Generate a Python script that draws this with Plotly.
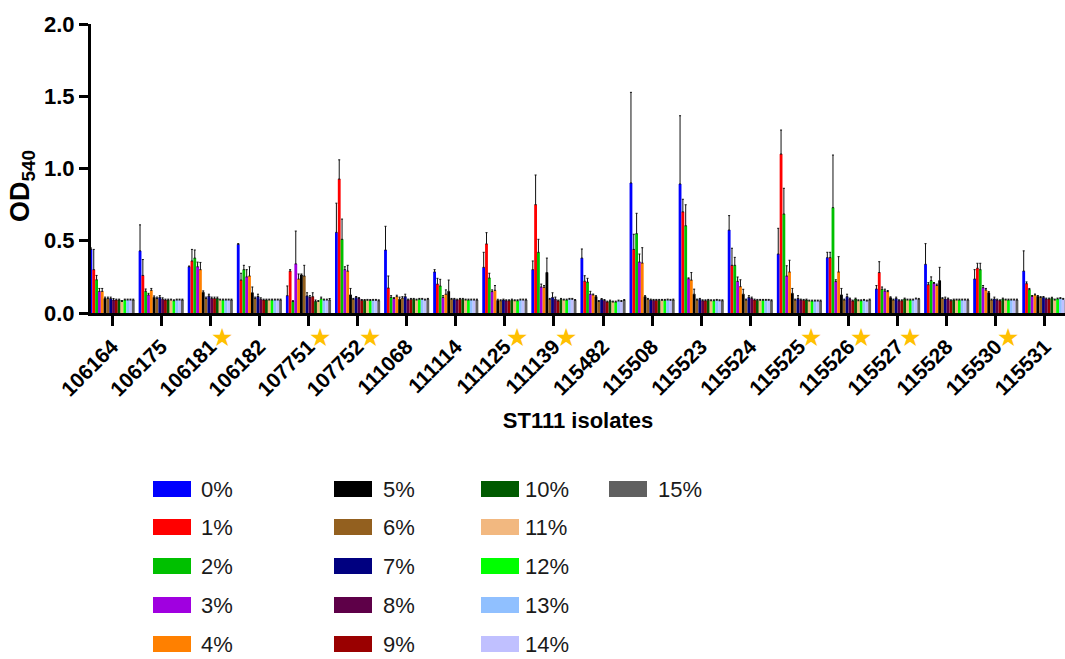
import plotly.graph_objects as go

isolates = ["106164", "106175", "106181", "106182", "107751", "107752", "111068",
            "111114", "111125", "111139", "115482", "115508", "115523", "115524",
            "115525", "115526", "115527", "115528", "115530", "115531"]
starred = ["106181", "107751", "107752", "111125", "111139", "115525", "115526",
           "115527", "115530"]
concentrations = ["0%", "1%", "2%", "3%", "4%", "5%", "6%", "7%", "8%", "9%",
                  "10%", "11%", "12%", "13%", "14%", "15%"]
colors = ["#0000FF", "#FF0000", "#00C000", "#A000E0", "#FF8000", "#000000",
          "#93601F", "#000080", "#5E0048", "#9A0000", "#005A00", "#F2B880",
          "#00FF00", "#90C0FF", "#C0C0FF", "#606060"]

# mean OD540 per isolate (0% .. 15%)
mean_106164 = [0.44, 0.30, 0.23, 0.15, 0.15, 0.10, 0.10, 0.10, 0.09, 0.09, 0.09, 0.08, 0.09, 0.09, 0.09, 0.09]
mean_106175 = [0.43, 0.26, 0.15, 0.125, 0.157, 0.108, 0.10, 0.108, 0.095, 0.09, 0.09, 0.09, 0.085, 0.09, 0.09, 0.09]
mean_106181 = [0.32, 0.36, 0.38, 0.32, 0.30, 0.143, 0.10, 0.117, 0.10, 0.10, 0.10, 0.09, 0.09, 0.09, 0.09, 0.09]
mean_106182 = [0.475, 0.228, 0.30, 0.25, 0.256, 0.14, 0.10, 0.114, 0.095, 0.09, 0.09, 0.09, 0.09, 0.09, 0.09, 0.09]
mean_107751 = [0.12, 0.29, 0.08, 0.34, 0.235, 0.263, 0.256, 0.118, 0.108, 0.113, 0.08, 0.08, 0.098, 0.09, 0.09, 0.09]
mean_107752 = [0.558, 0.927, 0.51, 0.30, 0.29, 0.125, 0.095, 0.108, 0.10, 0.087, 0.087, 0.088, 0.087, 0.088, 0.088, 0.085]
mean_111068 = [0.436, 0.173, 0.108, 0.10, 0.113, 0.095, 0.103, 0.113, 0.09, 0.095, 0.095, 0.09, 0.095, 0.095, 0.09, 0.095]
mean_111114 = [0.284, 0.20, 0.187, 0.108, 0.13, 0.15, 0.095, 0.095, 0.09, 0.095, 0.095, 0.09, 0.09, 0.09, 0.09, 0.09]
mean_111125 = [0.316, 0.478, 0.242, 0.148, 0.157, 0.087, 0.085, 0.09, 0.085, 0.085, 0.09, 0.085, 0.085, 0.09, 0.09, 0.09]
mean_111139 = [0.30, 0.75, 0.42, 0.18, 0.178, 0.28, 0.095, 0.108, 0.095, 0.083, 0.095, 0.09, 0.09, 0.095, 0.095, 0.087]
mean_115482 = [0.38, 0.22, 0.214, 0.13, 0.125, 0.113, 0.08, 0.094, 0.087, 0.076, 0.083, 0.076, 0.076, 0.083, 0.08, 0.087]
mean_115508 = [0.90, 0.44, 0.549, 0.353, 0.346, 0.113, 0.095, 0.09, 0.088, 0.088, 0.088, 0.088, 0.088, 0.09, 0.088, 0.09]
mean_115523 = [0.893, 0.70, 0.604, 0.237, 0.228, 0.13, 0.09, 0.095, 0.085, 0.085, 0.088, 0.085, 0.085, 0.088, 0.085, 0.085]
mean_115524 = [0.574, 0.33, 0.33, 0.219, 0.182, 0.13, 0.09, 0.108, 0.10, 0.09, 0.088, 0.088, 0.088, 0.088, 0.088, 0.085]
mean_115525 = [0.408, 1.10, 0.685, 0.256, 0.284, 0.136, 0.09, 0.10, 0.09, 0.088, 0.09, 0.083, 0.083, 0.083, 0.083, 0.083]
mean_115526 = [0.383, 0.383, 0.729, 0.217, 0.284, 0.125, 0.09, 0.113, 0.097, 0.083, 0.097, 0.085, 0.085, 0.088, 0.083, 0.09]
mean_115527 = [0.166, 0.28, 0.164, 0.152, 0.148, 0.106, 0.09, 0.10, 0.085, 0.085, 0.097, 0.09, 0.09, 0.09, 0.097, 0.095]
mean_115528 = [0.337, 0.196, 0.224, 0.205, 0.19, 0.224, 0.10, 0.097, 0.097, 0.085, 0.09, 0.09, 0.09, 0.09, 0.09, 0.09]
mean_115530 = [0.235, 0.31, 0.30, 0.175, 0.159, 0.14, 0.09, 0.097, 0.09, 0.085, 0.097, 0.09, 0.09, 0.09, 0.09, 0.09]
mean_115531 = [0.29, 0.203, 0.162, 0.115, 0.125, 0.115, 0.107, 0.108, 0.097, 0.097, 0.103, 0.09, 0.097, 0.10, 0.095, 0.09]

# upper error (SD) per isolate (0% .. 15%)
sd_106164 = [0.01, 0.14, 0.03, 0.02, 0.02, 0.01, 0.01, 0.01, 0.01, 0.006, 0.006, 0.006, 0.006, 0.006, 0.006, 0.006]
sd_106175 = [0.18, 0.11, 0.016, 0.011, 0.013, 0.01, 0.01, 0.012, 0.01, 0.006, 0.006, 0.006, 0.006, 0.006, 0.006, 0.006]
sd_106181 = [0.005, 0.08, 0.056, 0.032, 0.05, 0.01, 0.01, 0.013, 0.01, 0.01, 0.01, 0.006, 0.006, 0.006, 0.006, 0.006]
sd_106182 = [0.005, 0.047, 0.03, 0.05, 0.064, 0.04, 0.01, 0.016, 0.01, 0.006, 0.006, 0.006, 0.006, 0.006, 0.006, 0.006]
sd_107751 = [0.067, 0.01, 0.005, 0.227, 0.035, 0.007, 0.074, 0.022, 0.012, 0.027, 0.01, 0.006, 0.012, 0.006, 0.006, 0.01]
sd_107752 = [0.202, 0.133, 0.14, 0.02, 0.04, 0.045, 0.006, 0.006, 0.006, 0.006, 0.006, 0.006, 0.006, 0.006, 0.006, 0.006]
sd_111068 = [0.164, 0.083, 0.012, 0.006, 0.01, 0.015, 0.01, 0.017, 0.006, 0.006, 0.006, 0.006, 0.006, 0.006, 0.006, 0.006]
sd_111114 = [0.016, 0.04, 0.046, 0.012, 0.03, 0.078, 0.006, 0.006, 0.006, 0.006, 0.006, 0.006, 0.006, 0.006, 0.006, 0.006]
sd_111125 = [0.104, 0.078, 0.033, 0.012, 0.033, 0.008, 0.006, 0.006, 0.006, 0.006, 0.006, 0.006, 0.006, 0.006, 0.006, 0.006]
sd_111139 = [0.06, 0.205, 0.09, 0.02, 0.012, 0.10, 0.006, 0.032, 0.015, 0.006, 0.006, 0.006, 0.006, 0.006, 0.006, 0.006]
sd_115482 = [0.063, 0.038, 0.026, 0.02, 0.006, 0.007, 0.006, 0.006, 0.006, 0.006, 0.006, 0.006, 0.006, 0.006, 0.006, 0.006]
sd_115508 = [0.627, 0.105, 0.141, 0.055, 0.106, 0.007, 0.006, 0.006, 0.006, 0.006, 0.006, 0.006, 0.006, 0.006, 0.006, 0.006]
sd_115523 = [0.472, 0.087, 0.145, 0.006, 0.052, 0.035, 0.006, 0.006, 0.006, 0.006, 0.006, 0.006, 0.006, 0.006, 0.006, 0.006]
sd_115524 = [0.10, 0.118, 0.055, 0.03, 0.048, 0.034, 0.006, 0.012, 0.01, 0.006, 0.006, 0.006, 0.006, 0.006, 0.006, 0.006]
sd_115525 = [0.178, 0.166, 0.178, 0.071, 0.081, 0.034, 0.006, 0.02, 0.006, 0.006, 0.006, 0.006, 0.006, 0.006, 0.006, 0.006]
sd_115526 = [0.037, 0.037, 0.364, 0.013, 0.106, 0.045, 0.006, 0.017, 0.006, 0.006, 0.006, 0.006, 0.006, 0.006, 0.006, 0.006]
sd_115527 = [0.024, 0.075, 0.016, 0.013, 0.007, 0.006, 0.006, 0.01, 0.006, 0.006, 0.006, 0.006, 0.006, 0.006, 0.006, 0.006]
sd_115528 = [0.143, 0.014, 0.026, 0.006, 0.01, 0.092, 0.006, 0.013, 0.006, 0.006, 0.006, 0.006, 0.006, 0.006, 0.006, 0.006]
sd_115530 = [0.065, 0.034, 0.044, 0.015, 0.011, 0.008, 0.006, 0.013, 0.006, 0.006, 0.006, 0.006, 0.006, 0.006, 0.006, 0.006]
sd_115531 = [0.14, 0.012, 0.008, 0.006, 0.006, 0.006, 0.006, 0.006, 0.006, 0.006, 0.006, 0.006, 0.006, 0.006, 0.006, 0.006]

g = globals()
means = [g["mean_" + iso] for iso in isolates]
sds = [g["sd_" + iso] for iso in isolates]

W, H = 1065, 659
L, R, T, B = 91, 0, 24, 346
PW, PH = W - L - R, H - T - B
FONT = "Liberation Sans, Arial, sans-serif"

fig = go.Figure()
for j, conc in enumerate(concentrations):
    fig.add_trace(go.Bar(
        x=list(range(len(isolates))),
        y=[m[j] for m in means],
        name=conc,
        marker=dict(color=colors[j], line=dict(width=0)),
        error_y=dict(type="data", array=[s[j] for s in sds],
                     arrayminus=[0] * len(isolates), symmetric=False,
                     color="#111111", thickness=1, width=1),
        showlegend=False,
    ))

# stars next to selected isolates
for i, iso in enumerate(isolates):
    if iso in starred:
        fig.add_annotation(x=i, xref="x", y=(313 - 337) / PH, yref="paper",
                           text="★", showarrow=False, xshift=12,
                           font=dict(size=25, color="#FFC000", family="DejaVu Sans"),
                           xanchor="center", yanchor="middle")

# y-axis title
fig.add_annotation(x=(22 - L) / PW, xref="paper", y=(313 - 186) / PH, yref="paper",
                   text="<b>OD<sub>540</sub></b>", textangle=-90, showarrow=False,
                   xanchor="center", yanchor="middle",
                   font=dict(size=27, family=FONT, color="black"))

# manual legend (column-major, 5 rows)
col_sw_x = [153, 334, 481, 609]
col_tx_x = [199, 381, 523, 656]
row_y = [489, 527, 566, 605, 644]
for j, conc in enumerate(concentrations):
    c, r = j // 5, j % 5
    x0 = (col_sw_x[c] - L) / PW
    x1 = (col_sw_x[c] + 38 - L) / PW
    y0 = (313 - (row_y[r] + 8)) / PH
    y1 = (313 - (row_y[r] - 8)) / PH
    fig.add_shape(type="rect", xref="paper", yref="paper", x0=x0, x1=x1, y0=y0, y1=y1,
                  fillcolor=colors[j], line=dict(width=0))
    fig.add_annotation(x=(col_tx_x[c] - L) / PW, xref="paper", y=(313 - row_y[r]) / PH,
                       yref="paper", text=conc, showarrow=False, xanchor="left",
                       yanchor="middle", font=dict(size=22, color="#1a1a1a", family=FONT))

fig.update_layout(
    width=W, height=H,
    margin=dict(l=L, r=R, t=T, b=B, pad=0),
    paper_bgcolor="white", plot_bgcolor="white",
    barmode="group", bargap=0.08, bargroupgap=0.0,
    font=dict(family=FONT, color="black"),
    xaxis=dict(
        range=[-0.43, 19.41],
        tickmode="array", tickvals=list(range(len(isolates))),
        ticktext=["<b>%s</b>" % s for s in isolates],
        tickangle=-45, tickfont=dict(size=21, family=FONT, color="black"),
        ticks="outside", ticklen=10, tickwidth=3, tickcolor="black",
        showline=True, linewidth=3, linecolor="black",
        showgrid=False, zeroline=False,
        title=dict(text="<b>ST111 isolates</b>", font=dict(size=22, family=FONT), standoff=14),
    ),
    yaxis=dict(
        range=[0, 2.0], tickvals=[0, 0.5, 1.0, 1.5, 2.0],
        ticktext=["<b>0.0</b>", "<b>0.5</b>", "<b>1.0</b>", "<b>1.5</b>", "<b>2.0</b>"],
        tickfont=dict(size=22, family=FONT, color="black"),
        ticks="outside", ticklen=9, tickwidth=3, tickcolor="black",
        showline=True, linewidth=3, linecolor="black",
        showgrid=False, zeroline=False,
    ),
)

fig.write_html("out.html")
